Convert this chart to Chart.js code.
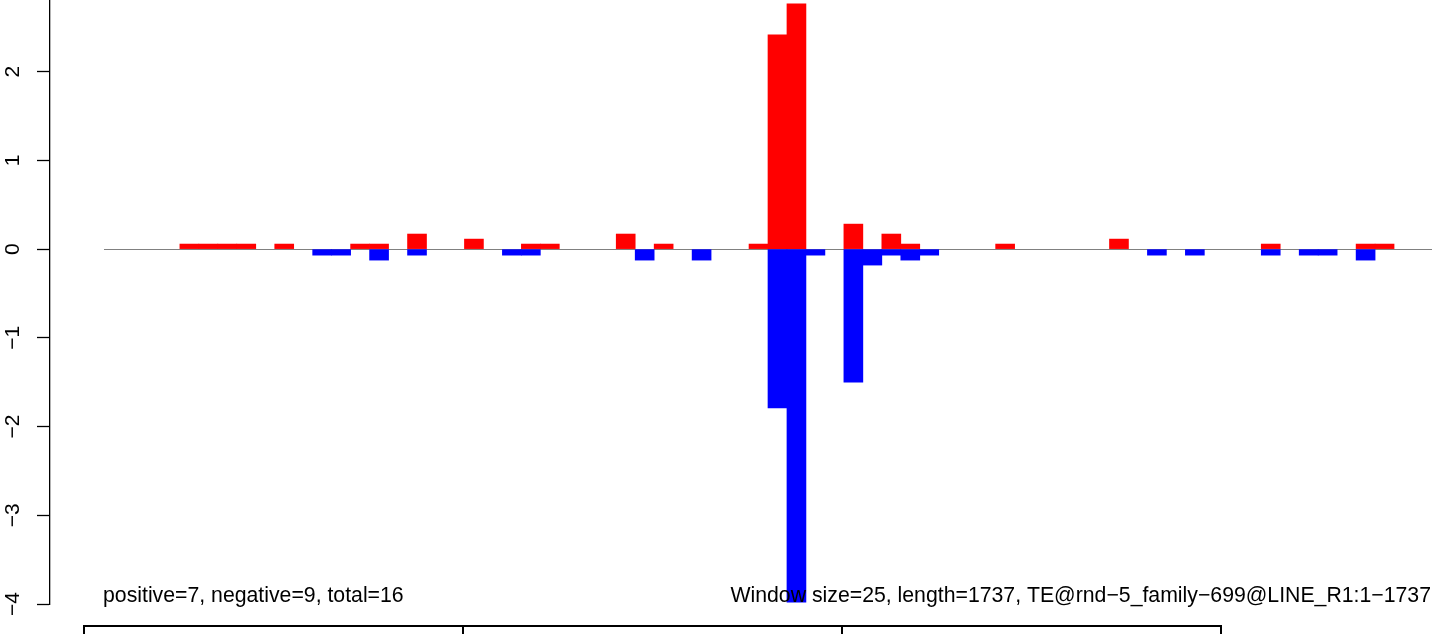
<!DOCTYPE html>
<html>
<head>
<meta charset="utf-8">
<script src="https://cdn.jsdelivr.net/npm/chart.js@4/dist/chart.umd.min.js"></script>
<style>
  html, body { margin: 0; padding: 0; background: #ffffff; }
  canvas { display: block; }
</style>
</head>
<body>
<canvas id="c" width="1444" height="634"></canvas>
<script>
// ---- data (one value per 25-bp window, 70 windows) ----
const windowCount = 70;
const positiveValues = [
  0, 0, 0, 0, 0.057, 0.057, 0.057, 0.057, 0, 0.057,
  0, 0, 0, 0.057, 0.057, 0, 0.17, 0, 0, 0.113,
  0, 0, 0.057, 0.057, 0, 0, 0, 0.17, 0, 0.057,
  0, 0, 0, 0, 0.057, 2.415, 2.765, 0, 0, 0.282,
  0, 0.17, 0.057, 0, 0, 0, 0, 0.057, 0, 0,
  0, 0, 0, 0.113, 0, 0, 0, 0, 0, 0,
  0, 0.057, 0, 0, 0, 0, 0.057, 0.057, 0, 0
];
const negativeValues = [
  0, 0, 0, 0, 0, 0, 0, 0, 0, 0,
  0, -0.068, -0.068, 0, -0.124, 0, -0.068, 0, 0, 0,
  0, -0.068, -0.068, 0, 0, 0, 0, 0, -0.124, 0,
  0, -0.124, 0, 0, 0, -1.79, -3.98, -0.068, 0, -1.50,
  -0.18, -0.068, -0.124, -0.068, 0, 0, 0, 0, 0, 0,
  0, 0, 0, 0, 0, -0.068, 0, -0.068, 0, 0,
  0, -0.068, 0, -0.068, -0.068, 0, -0.124, 0, 0, 0
];
const yTickValues = [-4, -3, -2, -1, 0, 1, 2];
const leftNote = 'positive=7, negative=9, total=16';
const rightNote = 'Window size=25, length=1737, TE@rnd\u22125_family\u2212699@LINE_R1:1\u22121737';
const frameTickBins = [-1.05, 18.93, 38.9, 58.88];

// ---- build datasets ----
const toPoints = arr => arr.map((v, i) => ({ x: i + 0.5, y: v === 0 ? null : v }));
const FONT = '"Liberation Sans", Arial, sans-serif';

const decor = {
  id: 'decor',
  beforeDatasetsDraw(chart) {
    const { ctx, scales: { x, y } } = chart;
    const y0 = Math.round(y.getPixelForValue(0)) + 0.5;
    ctx.save();
    ctx.strokeStyle = '#808080';
    ctx.lineWidth = 1.2;
    ctx.beginPath();
    ctx.moveTo(x.getPixelForValue(0), y0);
    ctx.lineTo(x.getPixelForValue(windowCount), y0);
    ctx.stroke();
    ctx.restore();
  },
  afterDraw(chart) {
    const { ctx, scales: { x } } = chart;
    ctx.save();
    ctx.fillStyle = '#000';
    ctx.font = '21.25px ' + FONT;
    ctx.textBaseline = 'alphabetic';
    ctx.textAlign = 'left';
    ctx.fillText(leftNote, x.getPixelForValue(0) - 1, 602);
    ctx.textAlign = 'right';
    ctx.fillText(rightNote, x.getPixelForValue(windowCount) - 1, 602);
    // frame of the panel below
    ctx.strokeStyle = '#000';
    ctx.lineWidth = 2;
    const xs = frameTickBins.map(b => Math.round(x.getPixelForValue(b)));
    ctx.beginPath();
    ctx.moveTo(xs[0] - 1, 626);
    ctx.lineTo(xs[xs.length - 1] + 1, 626);
    xs.forEach(px => { ctx.moveTo(px, 626); ctx.lineTo(px, 640); });
    ctx.stroke();
    ctx.restore();
  }
};

new Chart(document.getElementById('c'), {
  type: 'bar',
  data: {
    datasets: [
      { data: toPoints(positiveValues), backgroundColor: '#ff0000', borderWidth: 0 },
      { data: toPoints(negativeValues), backgroundColor: '#0000ff', borderWidth: 0 }
    ]
  },
  options: {
    responsive: false,
    animation: false,
    devicePixelRatio: 1,
    barPercentage: 1,
    categoryPercentage: 1,
    layout: { padding: { top: 0, right: 12, bottom: 30, left: 0 } },
    plugins: { legend: { display: false }, tooltip: { enabled: false } },
    scales: {
      x: {
        type: 'linear',
        stacked: true,
        min: -2.846,
        max: windowCount,
        offset: false,
        display: false
      },
      y: {
        stacked: true,
        min: -4,
        max: 2.808,
        afterFit: s => { s.width = 50; s.paddingTop = 0; s.paddingBottom = 0; },
        afterBuildTicks: s => { s.ticks = yTickValues.map(v => ({ value: v })); },
        border: { display: true, color: '#000', width: 1.3 },
        grid: {
          display: true,
          drawOnChartArea: false,
          drawTicks: true,
          tickLength: 13,
          tickColor: '#000',
          tickWidth: 1.3
        },
        ticks: {
          minRotation: 90,
          maxRotation: 90,
          crossAlign: 'center',
          padding: 12,
          color: '#000',
          font: { family: FONT, size: 21 },
          callback: v => (v < 0 ? '\u2212' + Math.abs(v) : String(v))
        }
      }
    }
  },
  plugins: [decor]
});
</script>
</body>
</html>
